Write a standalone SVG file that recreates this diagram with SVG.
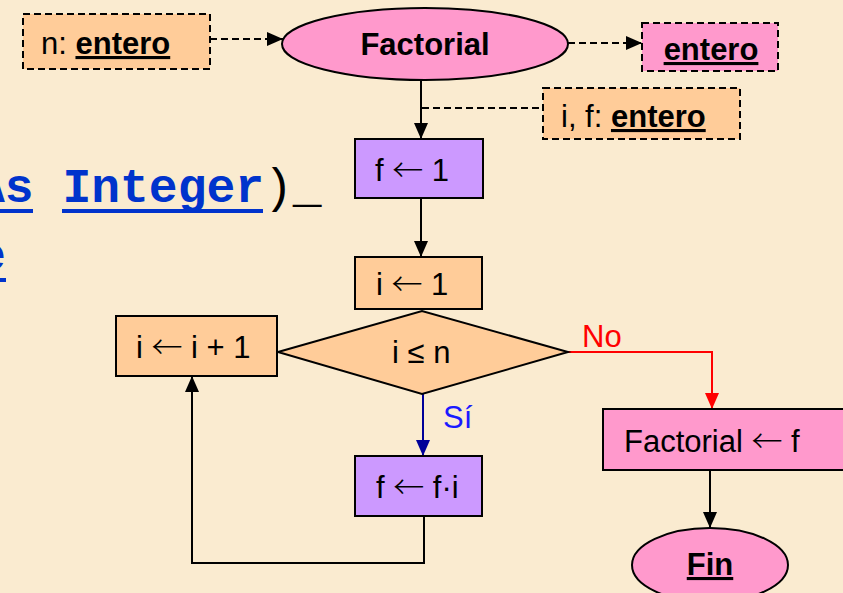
<svg xmlns="http://www.w3.org/2000/svg" width="843" height="593" viewBox="0 0 843 593">
  <style>
    .bg { fill: #FAEBD0; }
    .t { font-family: "Liberation Sans", Arial, sans-serif; font-size: 31px; fill: #000; }
    .b { font-weight: bold; }
    .u { text-decoration: underline; }
    .ar { font-family: "Noto Sans CJK JP", "DejaVu Sans", sans-serif; font-weight: 300; }
    .box { stroke: #000; stroke-width: 2; }
    .dash { stroke: #000; stroke-width: 2; stroke-dasharray: 7 4; fill: none; }
    .orange { fill: #FFCC99; }
    .pink { fill: #FF99CC; }
    .purple { fill: #CC99FF; }
    .line { stroke: #000; stroke-width: 2; fill: none; }
    .code { font-family: "Liberation Mono", "Courier New", monospace; font-size: 48px; font-weight: bold; fill: #0033CC; }
    .paren { font-weight: normal; fill: #000; }
  </style>
  <defs>
    <marker id="ah" viewBox="0 0 16 14" refX="16" refY="7" markerWidth="16" markerHeight="14" markerUnits="userSpaceOnUse" orient="auto">
      <path d="M0,0 L16,7 L0,14 z" fill="#000"/>
    </marker>
    <marker id="ahRed" viewBox="0 0 16 14" refX="16" refY="7" markerWidth="16" markerHeight="14" markerUnits="userSpaceOnUse" orient="auto">
      <path d="M0,0 L16,7 L0,14 z" fill="#FF0000"/>
    </marker>
    <marker id="ahBlue" viewBox="0 0 16 14" refX="16" refY="7" markerWidth="16" markerHeight="14" markerUnits="userSpaceOnUse" orient="auto">
      <path d="M0,0 L16,7 L0,14 z" fill="#000099"/>
    </marker>
  </defs>

  <rect class="bg" x="0" y="0" width="843" height="593"/>

  <!-- background code fragment -->
  <g id="code">
    <text class="code" x="-24" y="202">As Integer<tspan class="paren">)_</tspan></text>
    <rect x="-24" y="209" width="57" height="4" fill="#0033CC"/>
    <rect x="62" y="209" width="201" height="4" fill="#0033CC"/>
    <text class="code" x="-23" y="270">e</text>
    <rect x="-23" y="278" width="29" height="4" fill="#0033CC"/>
  </g>

  <!-- connectors -->
  <g id="connectors">
    <line class="dash" x1="210" y1="39" x2="283" y2="39" marker-end="url(#ah)"/>
    <line class="dash" x1="568" y1="43" x2="642" y2="43" marker-end="url(#ah)"/>
    <line class="dash" x1="422" y1="108" x2="543" y2="108"/>
    <line class="line" x1="421" y1="80" x2="421" y2="139" marker-end="url(#ah)"/>
    <line class="line" x1="421" y1="198" x2="421" y2="257" marker-end="url(#ah)"/>
    <line x1="423" y1="394" x2="423" y2="456" stroke="#000099" stroke-width="2" marker-end="url(#ahBlue)"/>
    <polyline points="568,352 712,352 712,409" fill="none" stroke="#FF0000" stroke-width="2" marker-end="url(#ahRed)"/>
    <polyline class="line" points="424,516 424,563 192,563 192,376" marker-end="url(#ah)"/>
    <line class="line" x1="710" y1="470" x2="710" y2="528" marker-end="url(#ah)"/>
    <text class="t" x="443" y="428" style="fill:#1A1AFF">Sí</text>
    <text class="t" x="582" y="347" style="fill:#FF0000">No</text>
  </g>

  <g id="decl-n">
    <rect class="dash orange" x="23" y="14" width="187" height="55"/>
    <text class="t" x="41" y="54">n: <tspan class="b u">entero</tspan></text>
  </g>

  <g id="start">
    <ellipse class="box pink" cx="425" cy="44" rx="143" ry="36"/>
    <text class="t b" x="425" y="55" text-anchor="middle">Factorial</text>
  </g>

  <g id="ret-type">
    <rect class="dash pink" x="642" y="23" width="136" height="48"/>
    <text class="t b u" x="711" y="60" text-anchor="middle">entero</text>
  </g>

  <g id="decl-if">
    <rect class="dash orange" x="543" y="88" width="197" height="51"/>
    <text class="t" x="561" y="127">i, f: <tspan class="b u">entero</tspan></text>
  </g>

  <g id="f-init">
    <rect class="box purple" x="355" y="139" width="128" height="59"/>
    <text class="t" x="375" y="181">f <tspan class="ar">←</tspan> 1</text>
  </g>

  <g id="i-init">
    <rect class="box orange" x="355" y="257" width="127" height="52"/>
    <text class="t" x="376" y="295">i <tspan class="ar">←</tspan> 1</text>
  </g>

  <g id="cond">
    <polygon class="box orange" points="278,352 422,311 568,352 422,394"/>
    <text class="t" x="392" y="363">i ≤ n</text>
  </g>

  <g id="i-inc">
    <rect class="box orange" x="116" y="316" width="161" height="60"/>
    <text class="t" x="136" y="358">i <tspan class="ar">←</tspan> i + 1</text>
  </g>

  <g id="f-mul">
    <rect class="box purple" x="355" y="456" width="127" height="60"/>
    <text class="t" x="376" y="498">f <tspan class="ar">←</tspan> f·i</text>
  </g>

  <g id="assign">
    <rect class="box pink" x="603" y="409" width="250" height="61"/>
    <text class="t" x="624" y="452">Factorial <tspan class="ar">←</tspan> f</text>
  </g>

  <g id="end">
    <ellipse class="box pink" cx="710" cy="565" rx="78" ry="37"/>
    <text class="t b u" x="710" y="575" text-anchor="middle">Fin</text>
  </g>
</svg>
